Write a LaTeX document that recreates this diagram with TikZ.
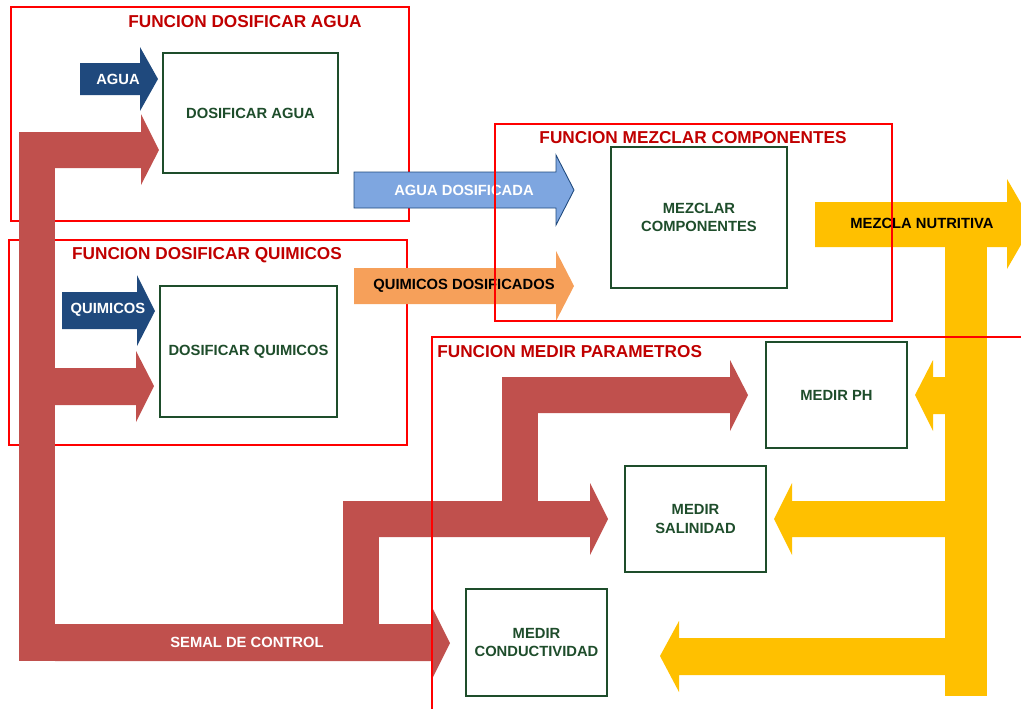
\documentclass[tikz,border=0pt]{standalone}
\usepackage{fontspec}
\setmainfont{Liberation Sans}

\definecolor{ctrlred}{HTML}{C0504D}
\definecolor{inblue}{HTML}{1F497D}
\definecolor{dosblue}{HTML}{7EA6E0}
\definecolor{dosorange}{HTML}{F6A05A}
\definecolor{mixyellow}{HTML}{FFC000}
\definecolor{titlered}{HTML}{C00000}
\definecolor{boxgreen}{HTML}{1E4D2B}

\tikzset{
  frame/.style={draw=red, line width=0.6pt},
  functitle/.style={text=titlered, font=\fontsize{9.8}{11}\selectfont\bfseries, inner sep=0pt},
  funcbox/.style={draw=boxgreen, line width=0.7pt, fill=white, text=boxgreen,
    font=\fontsize{8.4}{10.4}\selectfont\bfseries, align=center, inner sep=0pt},
  flowtext/.style={font=\fontsize{8.4}{10}\selectfont\bfseries, inner sep=0pt},
}

\begin{document}
\begin{tikzpicture}[x=0.02cm, y=-0.02cm]
  \useasboundingbox (0,0) rectangle (1021,708);
  \clip (0,0) rectangle (1021,708);

  % Draw the frames that lie under the arrows
  \draw[frame] (11,7) rectangle (409,221);
  \draw[frame] (9,240) rectangle (407,445);
  \node[functitle] (tagua) at (245,22) {FUNCION DOSIFICAR AGUA};
  \node[functitle] (tquim) at (207,255) {FUNCION DOSIFICAR QUIMICOS};

  % Draw the function boxes
  \node[funcbox, minimum width=3.5cm, minimum height=2.4cm] (dosagua) at (250.5,113) {DOSIFICAR AGUA};
  \node[funcbox, minimum width=3.54cm, minimum height=2.62cm] (dosquim) at (248.5,351.5) {DOSIFICAR QUIMICOS};
  \node[funcbox, minimum width=3.52cm, minimum height=2.82cm] (mezclar) at (699,217.5) {MEZCLAR\\COMPONENTES};
  \node[funcbox, minimum width=2.82cm, minimum height=2.12cm] (medirph) at (836.5,395) {MEDIR PH};
  \node[funcbox, minimum width=2.82cm, minimum height=2.12cm] (medirsal) at (695.5,519) {MEDIR\\SALINIDAD};
  \node[funcbox, minimum width=2.82cm, minimum height=2.14cm] (medircond) at (536.5,642.5) {MEDIR\\CONDUCTIVIDAD};

  % Draw the inputs
  \fill[inblue] (80,63) -- (140,63) -- (140,47) -- (158,79) -- (140,111) -- (140,95) -- (80,95) -- cycle;
  \node[flowtext, text=white] (agua) at (118,79) {AGUA};
  \fill[inblue] (62,292) -- (137,292) -- (137,275) -- (155,311) -- (137,346) -- (137,329) -- (62,329) -- cycle;
  \node[flowtext, text=white] (quim) at (108,310) {QUIMICOS};

  % Draw the dosed flows
  \filldraw[fill=dosblue, draw=inblue, line width=0.5pt] (354,172) -- (556,172) -- (556,155) -- (574,190)
    -- (556,225) -- (556,208) -- (354,208) -- cycle;
  \node[flowtext, text=white] (aguados) at (464,190) {AGUA DOSIFICADA};
  \fill[dosorange] (354,268) -- (556,268) -- (556,251) -- (574,286) -- (556,321) -- (556,304) -- (354,304) -- cycle;
  \node[flowtext, text=black] (quimdos) at (464,286) {QUIMICOS DOSIFICADOS};

  % Draw the control signal
  \fill[ctrlred] (19,132) rectangle (55,661);
  \fill[ctrlred] (55,132) -- (141,132) -- (141,114) -- (159,150) -- (141,185) -- (141,168) -- (55,168) -- cycle;
  \fill[ctrlred] (55,368) -- (136,368) -- (136,351) -- (154,386) -- (136,422) -- (136,405) -- (55,405) -- cycle;
  \fill[ctrlred] (55,624) -- (432,624) -- (432,607) -- (450,643) -- (432,679) -- (432,661) -- (55,661) -- cycle;
  \fill[ctrlred] (343,501) rectangle (379,624);
  \fill[ctrlred] (343,501) -- (590,501) -- (590,483) -- (608,519) -- (590,555) -- (590,537) -- (343,537) -- cycle;
  \fill[ctrlred] (502,377) rectangle (538,501);
  \fill[ctrlred] (502,377) -- (730,377) -- (730,360) -- (748,395) -- (730,431) -- (730,413) -- (502,413) -- cycle;
  \node[flowtext, text=white] (control) at (247,642) {SEMAL DE CONTROL};

  % Draw the nutrient mix
  \fill[mixyellow] (815,202) -- (1007,202) -- (1007,179) -- (1033,224) -- (1007,269) -- (1007,247) -- (815,247) -- cycle;
  \fill[mixyellow] (945,247) rectangle (987,696);
  \fill[mixyellow] (945,377) -- (933,377) -- (933,360) -- (915,395) -- (933,431) -- (933,414) -- (945,414) -- cycle;
  \fill[mixyellow] (945,501) -- (792,501) -- (792,483) -- (774,519) -- (792,555) -- (792,537) -- (945,537) -- cycle;
  \fill[mixyellow] (945,638) -- (679,638) -- (679,621) -- (660,656) -- (679,692) -- (679,675) -- (945,675) -- cycle;
  \node[flowtext, text=black] (mezcla) at (922,223) {MEZCLA NUTRITIVA};

  % Draw the frames that lie over the arrows
  \draw[frame] (495,124) rectangle (892,321);
  \node[functitle] (tmezcla) at (693,138) {FUNCION MEZCLAR COMPONENTES};
  \draw[frame] (432,710) -- (432,337) -- (1025,337);
  \node[functitle, anchor=west] (tmedir) at (437,352) {FUNCION MEDIR PARAMETROS};
\end{tikzpicture}
\end{document}
